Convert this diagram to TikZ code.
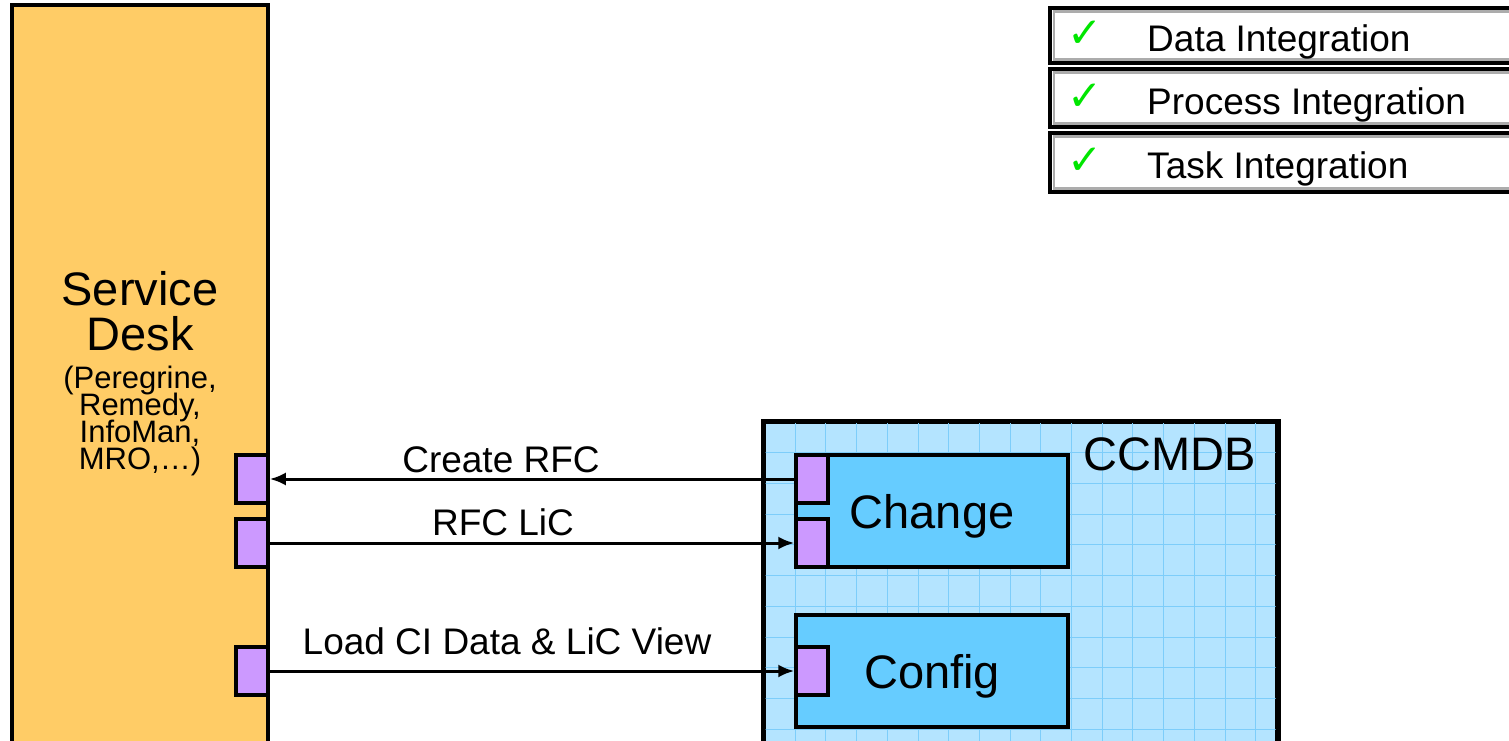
\documentclass[tikz,border=0pt]{standalone}
\usepackage{fontspec}
\setmainfont{Liberation Sans}
\newfontfamily\symfont{DejaVu Sans}
\usetikzlibrary{arrows.meta}
\definecolor{sdfill}{RGB}{255,204,102}
\definecolor{portfill}{RGB}{204,153,255}
\definecolor{ccfill}{RGB}{180,228,255}
\definecolor{ccgrid}{RGB}{125,205,250}
\definecolor{modfill}{RGB}{102,204,255}
\definecolor{chk}{RGB}{0,230,0}
\tikzset{
  box/.style={draw=black, line width=3.5pt, inner sep=0pt, rectangle},
  port/.style={box, fill=portfill, minimum width=32pt, minimum height=48pt},
  module/.style={box, fill=modfill, minimum width=272pt, minimum height=112pt},
  lbl/.style={inner sep=0pt, anchor=base, font=\fontsize{37}{40}\selectfont},
  big/.style={inner sep=0pt, anchor=base, font=\fontsize{47}{50}\selectfont},
  small/.style={inner sep=0pt, anchor=base, text height=20pt, text depth=5pt, font=\fontsize{31}{28}\selectfont},
  conn/.style={line width=3pt, -{Latex[length=16pt,width=13pt]}},
  legend/.style={draw=black, line width=4pt, fill=white},
  legendin/.style={draw=gray!65, line width=2.5pt},
}
\begin{document}
\begin{tikzpicture}[x=1pt,y=-1pt]
\clip (0,0) rectangle (1509,741);
% Service Desk
\node[box, fill=sdfill, minimum width=256pt, minimum height=800pt] (sd) at (140,405) {};
\node[big] (sdt1) at (140,305) {Service};
\node[big] (sdt2) at (140,350) {Desk};
\node[small] (sdt3) at (140,388) {(Peregrine,};
\node[small] (sdt4) at (140,415) {Remedy,};
\node[small] (sdt5) at (140,442) {InfoMan,};
\node[small] (sdt6) at (140,469) {MRO,\ldots)};
\node[port] (sp1) at (252,479) {};
\node[port] (sp2) at (252,543) {};
\node[port] (sp3) at (252,671) {};
% CCMDB
\node[box, fill=ccfill, minimum width=513pt, minimum height=400pt] (cc) at (1020.5,622) {};
\begin{scope}
\clip (765.5,423.5) rectangle (1275.5,800);
\foreach \i in {0,...,16} {
  \draw[ccgrid, line width=0.6pt] (795+\i*30.7,420) -- (795+\i*30.7,800);
}
\foreach \j in {-2,...,10} {
  \draw[ccgrid, line width=0.6pt] (760,483.3+\j*30.7) -- (1280,483.3+\j*30.7);
}
\end{scope}
\draw[line width=3.5pt] (cc.north west) rectangle (cc.south east);
\node[big, anchor=base east] (cct) at (1256,470) {CCMDB};
\node[module] (chg) at (932,511) {};
\node[module] (cfg) at (932,671) {};
\node[big] (chgt) at (932,528) {Change};
\node[big] (cfgt) at (932,688) {Config};
\node[port] (cp1) at (812,479) {};
\node[port] (cp2) at (812,543) {};
\node[port] (cp3) at (812,671) {};
% connectors
\draw[conn] (cp1.west) -- (sp1.east);
\draw[conn] (sp2.east) -- (cp2.west);
\draw[conn] (sp3.east) -- (cp3.west);
\node[lbl] (l1) at (501,472) {Create RFC};
\node[lbl] (l2) at (503,535) {RFC LiC};
\node[lbl] (l3) at (507,654) {Load CI Data \& LiC View};
% legend
\foreach \t/\b/\yb/\txt [count=\k] in {8/63/52/Data Integration, 69/127/115/Process Integration, 133/192/178/Task Integration} {
  \draw[legend] (1050,\t) rectangle (1530,\b);
  \draw[legendin] (1054,\t+3.5) rectangle (1530,\b-3.5);
  \node[inner sep=0pt, anchor=base, text=chk, font=\symfont\fontsize{42}{42}\selectfont] (ck\k) at (1085,\yb-4) {✓};
  \node[lbl, anchor=base west] (lt\k) at (1147,\yb) {\txt};
}
\end{tikzpicture}
\end{document}
